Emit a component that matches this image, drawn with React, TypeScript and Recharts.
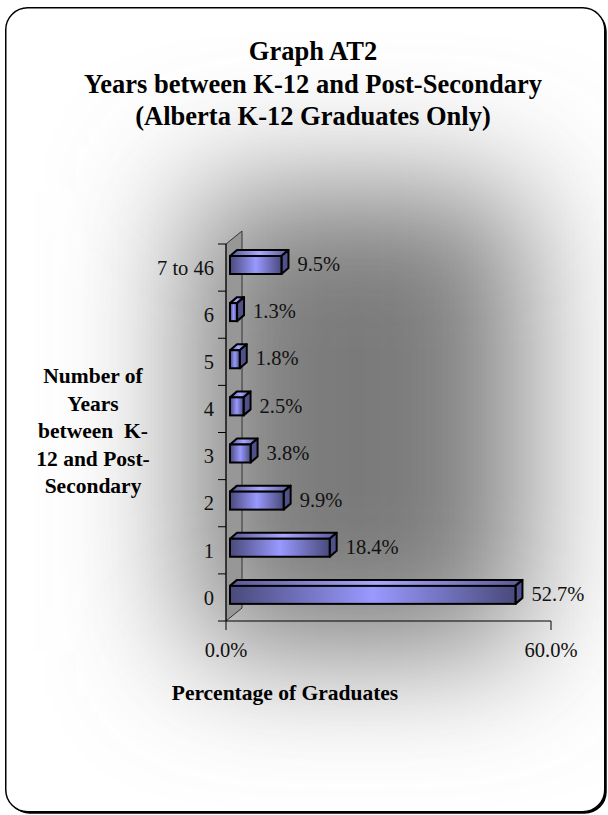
import React from 'react';
import { BarChart, Bar, XAxis, YAxis, LabelList } from 'recharts';

const categories = ['7 to 46', '6', '5', '4', '3', '2', '1', '0'];
const percentages = [9.5, 1.3, 1.8, 2.5, 3.8, 9.9, 18.4, 52.7];
const xTicks = [0, 60];

const data = categories.map((years, i) => ({ years, pct: percentages[i] }));

const serif = "'Liberation Serif', 'Times New Roman', serif";

// plot box (page pixels)
const PLOT_LEFT = 226;
const PLOT_TOP = 244;
const PLOT_RIGHT = 551;
const PLOT_BOTTOM = 621;
const WALL_DX = 16;
const WALL_DY = 13;

const Bar3D = (props: any) => {
  const { x, y, width, height } = props;
  if (width == null || height == null) return null;
  const fx = x + 4;
  const fy = y - 3;
  const d = 7;
  const e = 6;
  const top = `${fx},${fy} ${fx + d},${fy - e} ${fx + width + d},${fy - e} ${fx + width},${fy}`;
  const side = `${fx + width},${fy} ${fx + width + d},${fy - e} ${fx + width + d},${fy + height - e} ${fx + width},${fy + height}`;
  return (
    <g>
      <polygon points={top} fill="url(#barTop)" stroke="#000" strokeWidth={2} strokeLinejoin="round" />
      <polygon points={side} fill="#50508a" stroke="#000" strokeWidth={2} strokeLinejoin="round" />
      <rect x={fx} y={fy} width={width} height={height} fill="url(#barFront)" stroke="#000" strokeWidth={2} />
    </g>
  );
};

const ValueLabel = (props: any) => {
  const { x, y, width, height, value } = props;
  return (
    <text
      x={x + 4 + width + 16}
      y={y - 4 + height / 2}
      dy="0.35em"
      fontFamily={serif}
      fontSize={20.5}
      fill="#111"
      textAnchor="start"
    >
      {`${Number(value).toFixed(1)}%`}
    </text>
  );
};

const bandH = (PLOT_BOTTOM - PLOT_TOP) / categories.length;
const boundaryTicks = Array.from({ length: categories.length + 1 }, (_, i) => PLOT_TOP + i * bandH);

export default function App() {
  return (
    <div style={{ position: 'absolute', left: 0, top: 0, width: 608, height: 815, fontFamily: serif }}>
      <svg width={608} height={815} style={{ position: 'absolute', left: 0, top: 0 }}>
        <defs>
          <clipPath id="frameClip">
            <rect x={5.75} y={7.75} width={599} height={804} rx={22} />
          </clipPath>
          <filter id="soft" filterUnits="userSpaceOnUse" x={0} y={0} width={608} height={815}>
            <feGaussianBlur stdDeviation={66} />
          </filter>
        </defs>
        <rect x={7.75} y={9.75} width={599} height={804} rx={22} fill="#000" />
        <g clipPath="url(#frameClip)">
          <rect x={0} y={0} width={608} height={815} fill="#fff" />
          <rect x={192} y={190} width={332} height={462} fill="#7a7a7a" filter="url(#soft)" />
        </g>
        <rect x={5.75} y={7.75} width={599} height={804} rx={22} fill="none" stroke="#000" strokeWidth={1.5} />
        <polygon
          points={`${PLOT_LEFT},${PLOT_TOP} ${PLOT_LEFT + WALL_DX},${PLOT_TOP - WALL_DY} ${PLOT_LEFT + WALL_DX},${PLOT_BOTTOM - WALL_DY} ${PLOT_LEFT},${PLOT_BOTTOM}`}
          fill="#979797"
          stroke="#333"
          strokeWidth={1}
        />
        {boundaryTicks.map((ty) => (
          <line key={ty} x1={PLOT_LEFT - 8} x2={PLOT_LEFT} y1={ty} y2={ty} stroke="#000" strokeWidth={1} />
        ))}
      </svg>
      <div style={{ position: 'absolute', left: 0, top: 0 }}>
        <BarChart
          width={608}
          height={815}
          data={data}
          layout="vertical"
          margin={{ top: PLOT_TOP, right: 608 - PLOT_RIGHT, bottom: 815 - PLOT_BOTTOM - 40, left: PLOT_LEFT - 60 }}
          barCategoryGap={0}
        >
          <defs>
            <linearGradient id="barFront" x1="0" y1="0" x2="1" y2="0">
              <stop offset="0%" stopColor="#4a4a7c" />
              <stop offset="50%" stopColor="#9999ff" />
              <stop offset="100%" stopColor="#4a4a7c" />
            </linearGradient>
            <linearGradient id="barTop" x1="0" y1="0" x2="1" y2="0">
              <stop offset="0%" stopColor="#5a5a98" />
              <stop offset="50%" stopColor="#a8a8ff" />
              <stop offset="100%" stopColor="#5a5a98" />
            </linearGradient>
          </defs>
          <XAxis
            type="number"
            dataKey="pct"
            domain={[0, 60]}
            ticks={xTicks}
            tickFormatter={(v: number) => `${v.toFixed(1)}%`}
            tickSize={9}
            tickMargin={12}
            height={40}
            axisLine={{ stroke: '#000' }}
            tickLine={{ stroke: '#000' }}
            tick={{ fill: '#111', fontSize: 20.5, fontFamily: serif }}
            interval={0}
          />
          <YAxis
            type="category"
            dataKey="years"
            width={60}
            tickLine={false}
            tickSize={8}
            tickMargin={4}
            axisLine={{ stroke: '#000' }}
            tick={{ fill: '#111', fontSize: 20.5, fontFamily: serif }}
            interval={0}
          />
          <Bar dataKey="pct" barSize={18} shape={<Bar3D />} isAnimationActive={false}>
            <LabelList dataKey="pct" content={<ValueLabel />} />
          </Bar>
        </BarChart>
      </div>
      <div
        style={{
          position: 'absolute',
          left: 13,
          width: 600,
          top: 35,
          textAlign: 'center',
          fontWeight: 'bold',
          fontSize: 26.5,
          lineHeight: '32.5px',
          color: '#000',
        }}
      >
        <div>Graph AT2</div>
        <div>Years between K-12 and Post-Secondary</div>
        <div>(Alberta K-12 Graduates Only)</div>
      </div>
      <div
        style={{
          position: 'absolute',
          left: 13,
          width: 160,
          top: 363,
          textAlign: 'center',
          fontWeight: 'bold',
          fontSize: 21.5,
          lineHeight: '27.5px',
          color: '#000',
        }}
      >
        <div>Number of</div>
        <div>Years</div>
        <div>{'between\u00a0\u00a0K-'}</div>
        <div>12 and Post-</div>
        <div>Secondary</div>
      </div>
      <div
        style={{
          position: 'absolute',
          left: 135,
          width: 300,
          top: 680,
          textAlign: 'center',
          fontWeight: 'bold',
          fontSize: 21.5,
          lineHeight: '26px',
          color: '#000',
        }}
      >
        Percentage of Graduates
      </div>
    </div>
  );
}
